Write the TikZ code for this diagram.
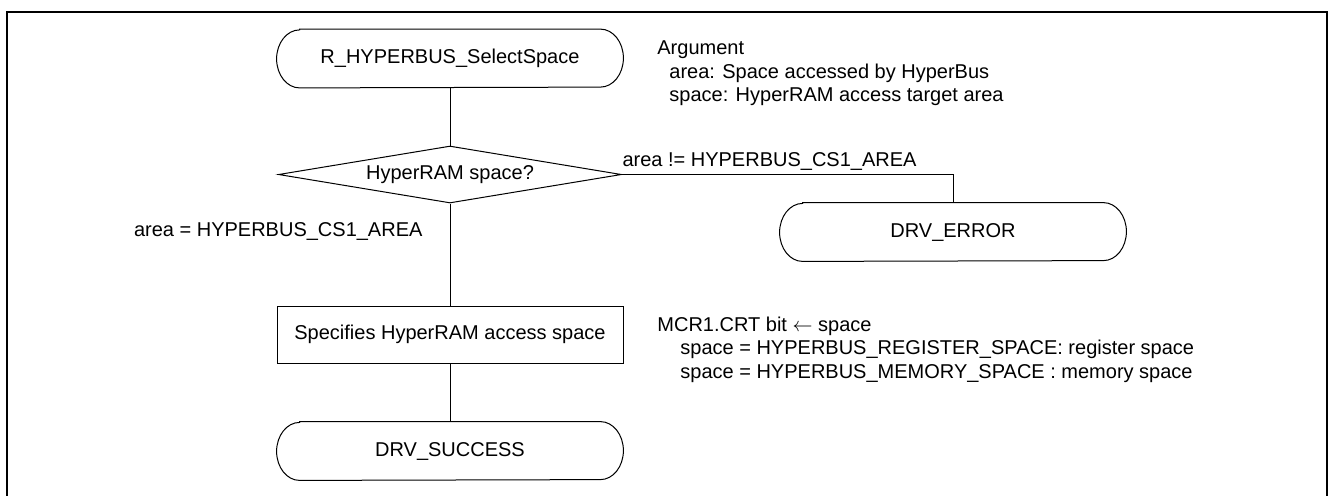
\documentclass[tikz,border=0pt]{standalone}
\usepackage{fontspec}
\setmainfont{Liberation Sans}
\usetikzlibrary{shapes.geometric,calc,positioning}

\tikzset{
  terminal/.style={rectangle,minimum width=173pt,minimum height=29pt,inner sep=0pt},
  process/.style={rectangle,draw,line width=0.5pt,minimum width=173pt,minimum height=28.5pt,inner sep=0pt},
  decision/.style={diamond,draw,line width=0.5pt,aspect=6,minimum width=171.5pt,minimum height=28.5pt,inner sep=0pt},
  note/.style={align=left,anchor=west,inner sep=0pt},
  flow/.style={line width=0.5pt}
}

\begin{document}
\begin{tikzpicture}[x=0.5pt,y=0.5pt,font=\fontsize{10}{11.75}\selectfont]
\useasboundingbox (0,0) rectangle (1328,-495);
\draw[line width=1pt] (7,-500) -- (7,-12) -- (1327,-12) -- (1327,-500);

\node[terminal] (start) at (450,-58.5) {R\_HYPERBUS\_SelectSpace};
\node[decision] (dec) at (450,-174.5) {HyperRAM space?};
\node[terminal] (error) at (953,-232) {DRV\_ERROR};
\node[process] (proc) at (450,-334.5) {Specifies HyperRAM access space};
\node[terminal] (success) at (450,-451) {DRV\_SUCCESS};

\node[note] (args) at (657,-73.5) {Argument\\\hspace*{6pt}area: Space accessed by HyperBus\\\hspace*{6pt}space: HyperRAM access target area};
\node[note] (mcr) at (657,-349.5) {MCR1.CRT bit $\leftarrow$ space\\\hspace*{11.5pt}space = HYPERBUS\_REGISTER\_SPACE: register space\\\hspace*{11.5pt}space = HYPERBUS\_MEMORY\_SPACE : memory space};

% terminal outlines
\foreach \t in {start,error,success}
  \draw[flow] ($(\t.north west)+(23,0)$) -- ($(\t.north east)+(-23,0)$)
    arc[start angle=90,end angle=-90,x radius=11.5pt,y radius=14.5pt]
    -- ($(\t.south west)+(23,0)$)
    arc[start angle=270,end angle=90,x radius=11.5pt,y radius=14.5pt] -- cycle;

\draw[flow] (start) -- (dec);
\draw[flow] (dec) -- node[left,pos=.27,inner sep=0pt,xshift=-13.5pt] (yes) {area = HYPERBUS\_CS1\_AREA} (proc);
\draw[flow] (dec.east) -| node[pos=0,above right,inner xsep=0pt,inner ysep=2pt] (no) {area != HYPERBUS\_CS1\_AREA} (error);
\draw[flow] (proc) -- (success);
\end{tikzpicture}
\end{document}
